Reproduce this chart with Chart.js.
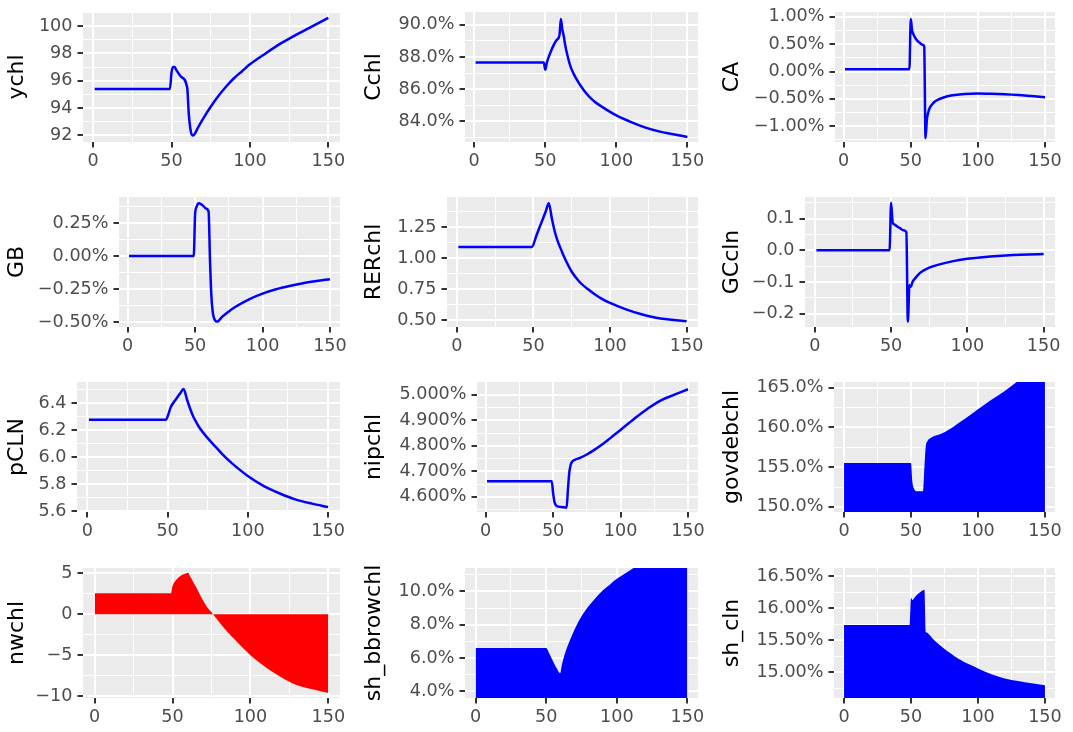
<!DOCTYPE html>
<html>
<head>
<meta charset="utf-8">
<script src="https://cdn.jsdelivr.net/npm/chart.js@4.4.0/dist/chart.umd.min.js"></script>
<style>
body { margin: 0; background: #fff; width: 1073px; height: 732px; overflow: hidden; position: relative; }
canvas { position: absolute; }
</style>
</head>
<body>
<script>
'use strict';

// values (x = period)
const ychlX = [1, 49, 50, 51, 52, 53, 56, 60, 61, 62, 63, 64, 65, 67, 70, 75, 80, 85, 90, 95, 100, 110, 120, 130, 140, 150];
const ychlY = [95.4, 95.4, 96.6, 97.0, 97.0, 96.8, 96.3, 95.5, 93.6, 92.5, 92.05, 92.0, 92.15, 92.6, 93.2, 94.1, 94.9, 95.6, 96.2, 96.7, 97.2, 98.0, 98.75, 99.4, 100.0, 100.6];

const cchlX = [1, 49, 50, 51, 52, 54, 56, 58, 60, 61, 62, 63, 64, 66, 68, 70, 72, 75, 80, 85, 90, 95, 100, 110, 120, 130, 140, 150];
const cchlY = [87.66, 87.66, 87.2, 87.6, 87.9, 88.35, 88.75, 89.05, 89.35, 90.35, 89.7, 89.3, 88.75, 87.95, 87.35, 86.95, 86.62, 86.2, 85.62, 85.2, 84.9, 84.62, 84.37, 83.97, 83.63, 83.38, 83.2, 83.03];

const caX = [1, 49, 50, 51, 52, 53, 55, 57, 59, 60, 61, 62, 63, 64, 66, 68, 70, 75, 80, 90, 100, 110, 120, 130, 140, 150];
const caY = [0.04, 0.04, 0.96, 0.75, 0.68, 0.63, 0.56, 0.52, 0.49, 0.46, -1.22, -0.88, -0.75, -0.67, -0.6, -0.55, -0.52, -0.47, -0.44, -0.41, -0.4, -0.405, -0.415, -0.43, -0.45, -0.47];

const gbX = [1, 49, 50, 51, 52, 53, 54, 56, 58, 60, 61, 62, 63, 64, 65, 66, 67, 68, 70, 75, 80, 90, 100, 110, 120, 130, 140, 150];
const gbY = [0, 0, 0.32, 0.37, 0.395, 0.40, 0.395, 0.38, 0.36, 0.335, -0.02, -0.29, -0.42, -0.47, -0.49, -0.497, -0.495, -0.485, -0.462, -0.42, -0.385, -0.328, -0.285, -0.252, -0.227, -0.206, -0.19, -0.176];

const rerX = [1, 49, 52, 55, 58, 60, 62, 64, 66, 68, 70, 75, 80, 85, 90, 95, 100, 110, 120, 130, 140, 150];
const rerY = [1.089, 1.09, 1.184, 1.279, 1.374, 1.44, 1.32, 1.21, 1.13, 1.07, 1.01, 0.89, 0.81, 0.755, 0.71, 0.67, 0.64, 0.59, 0.55, 0.52, 0.505, 0.492];

const gcX = [1, 49, 50, 51, 52, 54, 56, 58, 60, 61, 62, 63, 64, 66, 68, 70, 75, 80, 90, 100, 110, 120, 130, 140, 150];
const gcY = [0, 0, 0.15, 0.088, 0.082, 0.075, 0.069, 0.063, 0.057, -0.225, -0.11, -0.115, -0.1, -0.087, -0.076, -0.068, -0.055, -0.047, -0.035, -0.027, -0.022, -0.018, -0.015, -0.013, -0.012];

const pclnX = [1, 49, 50, 52, 55, 58, 60, 62, 64, 66, 68, 70, 75, 80, 85, 90, 100, 110, 120, 130, 140, 150];
const pclnY = [6.277, 6.277, 6.3, 6.37, 6.425, 6.475, 6.505, 6.43, 6.36, 6.3, 6.255, 6.215, 6.14, 6.075, 6.01, 5.955, 5.86, 5.785, 5.73, 5.685, 5.655, 5.63];

const nipX = [1, 49, 50, 51, 52, 54, 57, 60, 61, 62, 63, 64, 66, 70, 75, 80, 85, 90, 95, 100, 110, 120, 130, 140, 150];
const nipY = [4.661, 4.661, 4.615, 4.58, 4.568, 4.562, 4.56, 4.558, 4.63, 4.695, 4.725, 4.737, 4.745, 4.753, 4.766, 4.782, 4.8, 4.82, 4.841, 4.862, 4.905, 4.945, 4.978, 5.0, 5.021];

const govX = [0, 50, 51, 52, 53, 54, 59, 60, 61, 62, 64, 67, 70, 75, 80, 85, 90, 100, 110, 120, 130, 140, 150];
const govY = [155.52, 155.52, 153.2, 152.4, 152.05, 151.96, 151.96, 155.0, 157.6, 158.2, 158.6, 158.9, 159.05, 159.4, 159.9, 160.5, 161.05, 162.3, 163.5, 164.6, 165.85, 167.0, 168.1];

const nwX = [0, 49, 50, 51, 52, 54, 56, 58, 60, 61, 62, 64, 66, 68, 70, 72, 74, 76, 78, 80, 85, 90, 95, 100, 110, 120, 130, 140, 150];
const nwY = [2.55, 2.55, 3.45, 3.85, 4.1, 4.5, 4.75, 4.9, 5.03, 4.7, 4.35, 3.65, 2.95, 2.2, 1.55, 0.9, 0.45, 0.0, -0.5, -1.0, -2.1, -3.1, -4.1, -5.0, -6.5, -7.7, -8.65, -9.15, -9.6];

const bbX = [0, 50, 52, 54, 56, 58, 59, 60, 61, 62, 64, 66, 68, 70, 75, 80, 85, 90, 95, 100, 110, 120, 130, 140, 150];
const bbY = [6.6, 6.6, 6.3, 5.95, 5.6, 5.3, 5.15, 5.1, 5.55, 5.9, 6.45, 6.9, 7.3, 7.7, 8.5, 9.1, 9.6, 10.05, 10.4, 10.75, 11.3, 11.8, 12.2, 12.55, 12.9];

const shX = [0, 49, 50, 51, 52, 54, 56, 58, 60, 61, 62, 64, 66, 68, 70, 75, 80, 85, 90, 95, 100, 110, 120, 130, 140, 150];
const shY = [15.74, 15.74, 16.17, 16.13, 16.15, 16.2, 16.24, 16.27, 16.29, 15.63, 15.62, 15.58, 15.53, 15.49, 15.45, 15.365, 15.29, 15.215, 15.16, 15.11, 15.06, 14.97, 14.905, 14.865, 14.83, 14.8];

// tick labels
const xTicks = [0, 50, 100, 150];
const ychlTicks = [92, 94, 96, 98, 100];
const cchlTicks = [84, 86, 88, 90];
const caTicks = [-1, -0.5, 0, 0.5, 1];
const gbTicks = [-0.5, -0.25, 0, 0.25];
const rerTicks = [0.5, 0.75, 1, 1.25];
const gcTicks = [-0.2, -0.1, 0, 0.1];
const pclnTicks = [5.6, 5.8, 6.0, 6.2, 6.4];
const nipTicks = [4.6, 4.7, 4.8, 4.9, 5.0];
const govTicks = [150, 155, 160, 165];
const nwTicks = [-10, -5, 0, 5];
const bbTicks = [4, 6, 8, 10];
const shTicks = [15, 15.5, 16, 16.5];

const panels = [
  { name: 'ychl', xs: ychlX, ys: ychlY, ticks: ychlTicks, dec: 0, pct: false, min: 91.52, max: 101.03, kind: 'line' },
  { name: 'Cchl', xs: cchlX, ys: cchlY, ticks: cchlTicks, dec: 1, pct: true, min: 82.72, max: 90.79, kind: 'line' },
  { name: 'CA', xs: caX, ys: caY, ticks: caTicks, dec: 2, pct: true, min: -1.29, max: 1.09, kind: 'line' },
  { name: 'GB', xs: gbX, ys: gbY, ticks: gbTicks, dec: 2, pct: true, min: -0.538, max: 0.447, kind: 'line' },
  { name: 'RERchl', xs: rerX, ys: rerY, ticks: rerTicks, dec: 2, pct: false, min: 0.446, max: 1.491, kind: 'line' },
  { name: 'GCcln', xs: gcX, ys: gcY, ticks: gcTicks, dec: 1, pct: false, min: -0.242, max: 0.168, kind: 'line' },
  { name: 'pCLN', xs: pclnX, ys: pclnY, ticks: pclnTicks, dec: 1, pct: false, min: 5.593, max: 6.556, kind: 'line' },
  { name: 'nipchl', xs: nipX, ys: nipY, ticks: nipTicks, dec: 3, pct: true, min: 4.541, max: 5.0495, kind: 'line' },
  { name: 'govdebchl', xs: govX, ys: govY, ticks: govTicks, dec: 1, pct: true, min: 149.36, max: 165.72, kind: 'bar' },
  { name: 'nwchl', xs: nwX, ys: nwY, ticks: nwTicks, dec: 0, pct: false, min: -10.2, max: 5.61, kind: 'bar', color: '#FF0000' },
  { name: 'sh_bbrowchl', xs: bbX, ys: bbY, ticks: bbTicks, dec: 1, pct: true, min: 3.6, max: 11.4, kind: 'bar' },
  { name: 'sh_cln', xs: shX, ys: shY, ticks: shTicks, dec: 2, pct: true, min: 14.6, max: 16.63, kind: 'bar' }
];

// page layout
const cellLeft = [0, 357, 715];
const plotRight = [340, 698, 1055];
const plotTop = [12, 197, 382, 568];
const plotLeft = [83, 465, 835, 119, 447, 805, 77, 477, 834, 83, 465, 834];
const plotH = 130;
const padTop = 12;
const padRight = 17;
const xAxisH = 42;

Chart.defaults.font.family = "'DejaVu Sans', 'Liberation Sans', sans-serif";
Chart.defaults.animation = false;

const panelBg = {
  id: 'panelBg',
  beforeDraw(chart) {
    const a = chart.chartArea;
    const c = chart.ctx;
    c.save();
    c.fillStyle = '#EBEBEB';
    c.fillRect(a.left, a.top, a.right - a.left, a.bottom - a.top);
    c.restore();
  }
};

function fmt(v, dec, pct) {
  let s = Math.abs(v).toFixed(dec);
  if (v < -1e-9) s = '\u2212' + s;
  return pct ? s + '%' : s;
}

function withMinor(major, min, max) {
  const step = major[1] - major[0];
  const minor = [major[0] - step / 2];
  for (let i = 0; i < major.length; i++) minor.push(major[i] + step / 2);
  const all = major.concat(minor).filter(v => v >= min && v <= max);
  return all.sort((a, b) => a - b);
}

function isMajor(list, v) {
  return list.some(m => Math.abs(m - v) < 1e-9);
}

for (let i = 0; i < panels.length; i++) {
  const p = panels[i];
  const row = Math.floor(i / 3);
  const col = i % 3;

  const canvas = document.createElement('canvas');
  const w = plotRight[col] - cellLeft[col] + padRight;
  const h = padTop + plotH + xAxisH;
  canvas.width = w;
  canvas.height = h;
  canvas.style.left = cellLeft[col] + 'px';
  canvas.style.top = (plotTop[row] - padTop) + 'px';
  document.body.appendChild(canvas);

  const yWidth = plotLeft[i] - cellLeft[col];
  const isBar = p.kind === 'bar';
  const xmin = isBar ? -7.5 : -6.45;
  const xmax = isBar ? 157.5 : 157.45;

  const points = p.xs.map((x, k) => ({ x: x, y: p.ys[k] }));

  const dataset = isBar ? {
    data: points,
    borderWidth: 0,
    pointRadius: 0,
    backgroundColor: p.color || '#0000FF',
    fill: p.color ? 'origin' : 'start',
    cubicInterpolationMode: 'monotone'
  } : {
    data: points,
    borderColor: '#0000FF',
    borderWidth: 2.5,
    pointRadius: 0,
    fill: false,
    cubicInterpolationMode: 'monotone'
  };

  const gridFor = majors => ({
    color: '#FFFFFF',
    lineWidth: ctx => isMajor(majors, ctx.tick.value) ? 2 : 1,
    tickColor: ctx => isMajor(majors, ctx.tick.value) ? '#333333' : 'rgba(0,0,0,0)',
    tickWidth: 2,
    tickLength: 5.5,
    drawTicks: true
  });

  new Chart(canvas, {
    type: 'line',
    data: { datasets: [dataset] },
    options: {
      responsive: false,
      devicePixelRatio: 1,
      layout: { padding: { top: padTop, right: padRight, left: 0, bottom: 0 } },
      plugins: { legend: { display: false }, tooltip: { enabled: false } },
      scales: {
        x: {
          type: 'linear',
          min: xmin,
          max: xmax,
          afterBuildTicks: s => { s.ticks = withMinor(xTicks, xmin, xmax).map(v => ({ value: v })); },
          afterFit: s => { s.height = xAxisH; s.paddingLeft = 0; s.paddingRight = 0; },
          grid: gridFor(xTicks),
          border: { display: false },
          ticks: {
            autoSkip: false,
            maxRotation: 0,
            padding: 3,
            color: '#4D4D4D',
            font: { size: 17.6 },
            callback: v => isMajor(xTicks, v) ? String(v) : ''
          }
        },
        y: {
          type: 'linear',
          min: p.min,
          max: p.max,
          afterBuildTicks: s => { s.ticks = withMinor(p.ticks, p.min, p.max).map(v => ({ value: v })); },
          afterFit: s => { s.width = yWidth; s.paddingTop = 0; s.paddingBottom = 0; },
          grid: gridFor(p.ticks),
          border: { display: false },
          title: {
            display: true,
            text: p.name,
            color: '#000000',
            font: { size: 22 },
            padding: { top: 4, bottom: 0 }
          },
          ticks: {
            autoSkip: false,
            padding: 5,
            color: '#4D4D4D',
            font: { size: 17.6 },
            callback: v => isMajor(p.ticks, v) ? fmt(v, p.dec, p.pct) : ''
          }
        }
      }
    },
    plugins: [panelBg]
  });
}
</script>
</body>
</html>
